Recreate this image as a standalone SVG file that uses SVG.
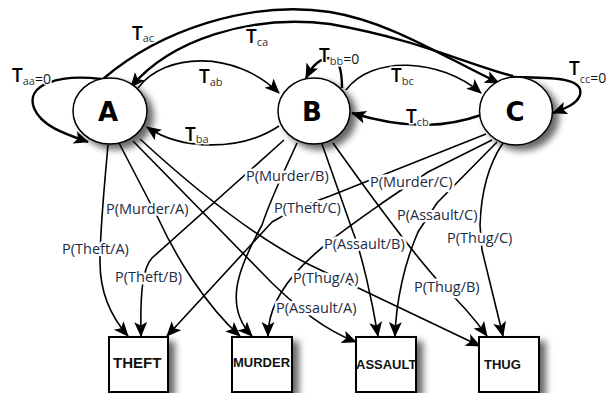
<svg xmlns="http://www.w3.org/2000/svg" width="612" height="393" viewBox="0 0 612 393">
<defs>
<filter id="sh" x="-30%" y="-30%" width="170%" height="170%">
<feGaussianBlur in="SourceAlpha" stdDeviation="3.5"/>
<feOffset dx="6" dy="5" result="b"/>
<feComponentTransfer><feFuncA type="linear" slope="0.6"/></feComponentTransfer>
<feMerge><feMergeNode/><feMergeNode in="SourceGraphic"/></feMerge>
</filter>
<marker id="ah" markerUnits="userSpaceOnUse" markerWidth="16" markerHeight="14" refX="14" refY="6.5" orient="auto">
<path d="M0,0 L15,6.5 L0,13 L3.5,6.5 z" fill="#000"/>
</marker>
</defs>
<style>
.c{fill:none;stroke:#000;stroke-width:1.6}
.t{fill:none;stroke:#000;stroke-width:2.4}
.n{fill:#fff;stroke:#000;stroke-width:1.5}
.b{fill:#fff;stroke:#000;stroke-width:2}
.nl{font-family:"DejaVu Sans",sans-serif;font-weight:bold;font-size:26px;text-anchor:middle}
.bl{font-family:"Liberation Sans",Arial,sans-serif;font-weight:bold;font-size:13px;fill:#111}
.pl{font-family:"Open Sans","Liberation Sans",sans-serif;font-size:14.5px;fill:#1c2b45;stroke:#fff;stroke-width:5;stroke-linejoin:round;paint-order:stroke}
.tl{font-family:"Open Sans","Liberation Sans",sans-serif;font-size:19px;font-weight:600;fill:#000;stroke:#fff;stroke-width:3;paint-order:stroke}
.sb{font-size:11px;font-weight:normal;fill:#333}
.eq{font-size:14px;font-weight:normal;fill:#111}
</style>
<g id="connectors">
<path class="t" d="M101 79 C60 74 25 84 34 108 C41 126 65 134 88 142" marker-end="url(#ah)"/>
<path class="t" d="M103 79 C160 30 250 0 330 12 C390 22 440 55 499 83" marker-end="url(#ah)"/>
<path class="t" d="M513 76 C460 62 420 40 330 24 C250 14 170 40 131 87" marker-end="url(#ah)"/>
<path class="c" d="M138 88 C165 52 235 50 279 93" marker-end="url(#ah)"/>
<path class="c" d="M279 126 C240 152 180 150 147 127" marker-end="url(#ah)"/>
<path class="t" d="M342 88 C342 70 339 58 330 58 C320 58 312 66 306 78" marker-end="url(#ah)"/>
<path class="c" d="M346 90 C372 55 440 58 481 93" marker-end="url(#ah)"/>
<path class="t" d="M481 115 C450 126 410 131 352 113" marker-end="url(#ah)"/>
<path class="t" d="M513 77 C545 78 585 76 580 95 C577 104 566 108 553 113" marker-end="url(#ah)"/>
<path class="c" d="M108 145 C104 190 100 230 100 262 C100 295 112 318 128 336" marker-end="url(#ah)"/>
<path class="c" d="M119 143 L158 218 C175 255 205 305 240 336" marker-end="url(#ah)"/>
<path class="c" d="M133 141 L272 283 C300 310 325 330 356 342" marker-end="url(#ah)"/>
<path class="c" d="M140 139 C190 185 250 235 310 265 L480 346" marker-end="url(#ah)"/>
<path class="c" d="M284 140 L152 258 C143 268 140 290 141 336" marker-end="url(#ah)"/>
<path class="c" d="M297 143 C285 170 272 195 262 225 C240 265 222 305 252 336" marker-end="url(#ah)"/>
<path class="c" d="M322 144 L353 232 C362 255 372 300 378 336" marker-end="url(#ah)"/>
<path class="c" d="M333 143 C370 195 410 250 440 283 C458 300 474 318 487 336" marker-end="url(#ah)"/>
<path class="c" d="M486 134 L330 196 Q295 208 272 222 L167 336" marker-end="url(#ah)"/>
<path class="c" d="M492 140 L428 172 L388 199 C330 240 268 280 268 336" marker-end="url(#ah)"/>
<path class="c" d="M497 142 L437 203 L418 232 C405 262 396 300 395 336" marker-end="url(#ah)"/>
<path class="c" d="M503 143 C488 165 481 195 480 225 L482 250 L503 336" marker-end="url(#ah)"/>
</g>
<g id="edge-labels">
<text class="tl" x="12" y="82">T<tspan class="sb" dy="3">aa</tspan><tspan class="eq" dy="-1">=0</tspan></text>
<text class="tl" x="132" y="40">T<tspan class="sb" dy="2">ac</tspan></text>
<text class="tl" x="246" y="43">T<tspan class="sb" dy="3">ca</tspan></text>
<text class="tl" x="199" y="83">T<tspan class="sb" dy="3">ab</tspan></text>
<text class="tl" x="185" y="141">T<tspan class="sb" dy="2">ba</tspan></text>
<text class="tl" x="319" y="62">T<tspan class="sb" dy="3">bb</tspan><tspan class="eq" dy="-1">=0</tspan></text>
<text class="tl" x="391" y="82">T<tspan class="sb" dy="3">bc</tspan></text>
<text class="tl" x="406" y="123">T<tspan class="sb" dy="3">cb</tspan></text>
<text class="tl" x="569" y="75">T<tspan class="sb" dy="8">cc</tspan><tspan class="eq" dy="0">=0</tspan></text>
<text class="pl" x="106" y="214">P(Murder/A)</text>
<text class="pl" x="62" y="254">P(Theft/A)</text>
<text class="pl" x="115" y="282">P(Theft/B)</text>
<text class="pl" x="246" y="181">P(Murder/B)</text>
<text class="pl" x="274" y="213">P(Theft/C)</text>
<text class="pl" x="370" y="187">P(Murder/C)</text>
<text class="pl" x="397" y="220">P(Assault/C)</text>
<text class="pl" x="447" y="243">P(Thug/C)</text>
<text class="pl" x="324" y="249">P(Assault/B)</text>
<text class="pl" x="293" y="283">P(Thug/A)</text>
<text class="pl" x="276" y="313">P(Assault/A)</text>
<text class="pl" x="414" y="292">P(Thug/B)</text>
</g>
<g id="node-A"><ellipse class="n" cx="110" cy="111" rx="37" ry="33" filter="url(#sh)"/><text class="nl" x="108" y="121">A</text></g>
<g id="node-B"><ellipse class="n" cx="314" cy="111" rx="36" ry="33" filter="url(#sh)"/><text class="nl" x="312" y="121">B</text></g>
<g id="node-C"><ellipse class="n" cx="516" cy="111" rx="36.5" ry="34" filter="url(#sh)"/><text class="nl" x="515" y="121">C</text></g>
<g id="node-theft"><rect class="b" x="109" y="337" width="59" height="55" filter="url(#sh)"/><text class="bl" x="113" y="368" style="font-size:15px">THEFT</text></g>
<g id="node-murder"><rect class="b" x="232" y="337" width="60" height="55" filter="url(#sh)"/><text class="bl" x="233" y="367">MURDER</text></g>
<g id="node-assault"><rect class="b" x="356" y="337" width="60" height="55" filter="url(#sh)"/><text class="bl" x="356" y="369">ASSAULT</text></g>
<g id="node-thug"><rect class="b" x="479" y="337" width="60" height="55" filter="url(#sh)"/><text class="bl" x="484" y="369">THUG</text></g>
</svg>
